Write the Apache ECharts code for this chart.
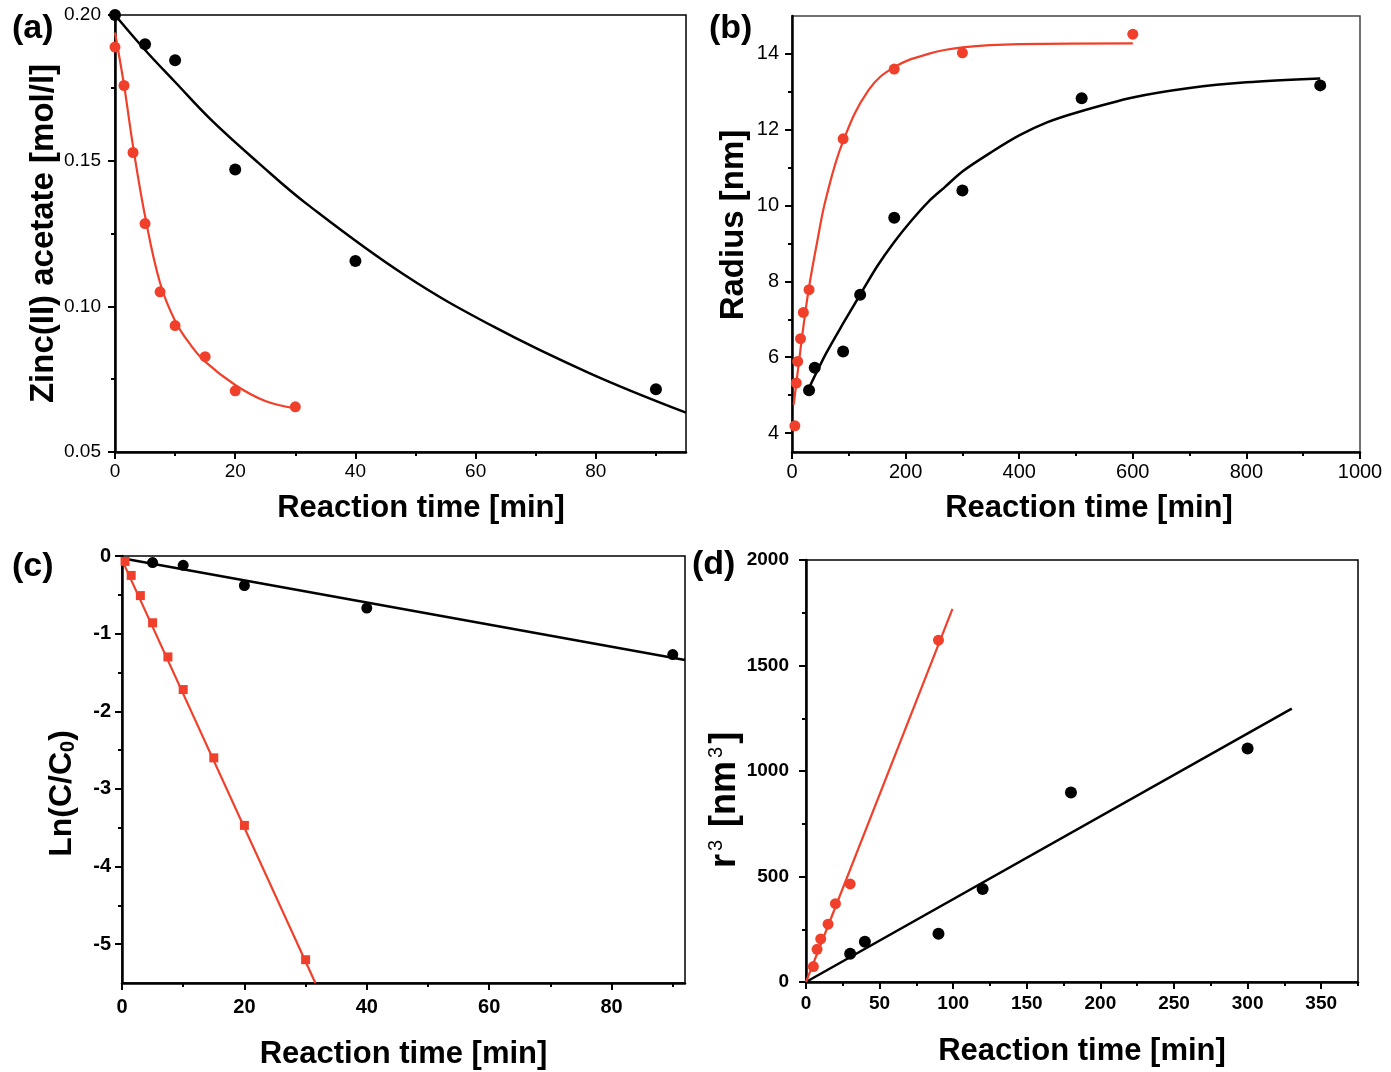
<!DOCTYPE html>
<html>
<head>
<meta charset="utf-8">
<script src="https://cdn.jsdelivr.net/npm/echarts@6/dist/echarts.min.js"></script>
<style>
html,body{margin:0;padding:0;background:#fff;}
#chart{width:1391px;height:1072px;}
</style>
</head>
<body>
<div id="chart"></div>
<script>
// ---------- Panel (a): Zinc(II) acetate vs time ----------
const timeA_black = [0, 5, 10, 20, 40, 90];
const concA_black = [0.200, 0.190, 0.1845, 0.147, 0.1156, 0.0715];
const timeA_red = [0, 1.5, 3, 5, 7.5, 10, 15, 20, 30];
const concA_red = [0.189, 0.1758, 0.1528, 0.1284, 0.105, 0.0934, 0.0827, 0.071, 0.0655];
const fitA_black_t = [0, 5, 10, 16, 24, 32, 48, 63, 79, 95];
const fitA_black_v = [0.200, 0.188, 0.177, 0.164, 0.149, 0.135, 0.111, 0.093, 0.077, 0.0635];
const fitA_red_t = [0, 1.5, 3, 5, 7.5, 10, 12.5, 15, 20, 25, 30];
const fitA_red_v = [0.194, 0.176, 0.155, 0.131, 0.108, 0.095, 0.087, 0.081, 0.073, 0.0675, 0.065];

// ---------- Panel (b): Radius vs time ----------
const timeB_black = [30, 40, 90, 120, 180, 300, 510, 930];
const radB_black = [5.13, 5.72, 6.15, 7.65, 9.68, 10.4, 12.83, 13.17];
const timeB_red = [5, 7.5, 10, 15, 20, 30, 90, 180, 300, 600];
const radB_red = [4.19, 5.32, 5.89, 6.49, 7.18, 7.78, 11.76, 13.6, 14.03, 14.52];
const fitB_black_t = [30, 60, 90, 120, 150, 180, 210, 240, 270, 300, 350, 400, 450, 500, 600, 700, 800, 930];
const fitB_black_v = [5.19, 6.1, 6.89, 7.65, 8.4, 9.04, 9.6, 10.1, 10.5, 10.9, 11.4, 11.85, 12.2, 12.45, 12.85, 13.1, 13.25, 13.35];
const fitB_red_t = [3, 10, 20, 30, 45, 60, 90, 135, 180, 240, 300, 400, 600];
const fitB_red_v = [4.75, 5.6, 6.8, 7.85, 9.1, 10.2, 11.7, 13.05, 13.65, 14.0, 14.17, 14.26, 14.28];

// ---------- Panel (c): Ln(C/C0) vs time ----------
const timeC_black = [5, 10, 20, 40, 90];
const lnC_black = [-0.085, -0.12, -0.38, -0.67, -1.27];
const timeC_red = [0.5, 1.5, 3, 5, 7.5, 10, 15, 20, 30];
const lnC_red = [-0.07, -0.25, -0.51, -0.86, -1.30, -1.72, -2.60, -3.47, -5.20];
const fitC_black_t = [0, 92];
const fitC_black_v = [-0.03, -1.34];
const fitC_red_t = [0, 31.6];
const fitC_red_v = [-0.05, -5.5];

// ---------- Panel (d): r^3 vs time ----------
const timeD_black = [30, 40, 90, 120, 180, 300];
const r3D_black = [134, 191, 229, 441, 898, 1107];
const timeD_red = [5, 7.5, 10, 15, 20, 30, 90];
const r3D_red = [73, 155, 204, 274, 371, 465, 1620];
const fitD_black_t = [0, 330];
const fitD_black_v = [0, 1296];
const fitD_red_t = [0, 99.5];
const fitD_red_v = [0, 1768];

// ---------- Tick values ----------
const ticksA_x = [0, 20, 40, 60, 80];
const minorA_x = [10, 30, 50, 70, 90];
const ticksA_y = [0.05, 0.10, 0.15, 0.20];
const minorA_y = [0.075, 0.125, 0.175];
const ticksB_x = [0, 200, 400, 600, 800, 1000];
const minorB_x = [100, 300, 500, 700, 900];
const ticksB_y = [4, 6, 8, 10, 12, 14];
const minorB_y = [5, 7, 9, 11, 13];
const ticksC_x = [0, 20, 40, 60, 80];
const minorC_x = [10, 30, 50, 70, 90];
const ticksC_y = [-5, -4, -3, -2, -1, 0];
const minorC_y = [-4.5, -3.5, -2.5, -1.5, -0.5];
const ticksD_x = [0, 50, 100, 150, 200, 250, 300, 350];
const minorD_x = [25, 75, 125, 175, 225, 275, 325, 375];
const ticksD_y = [0, 500, 1000, 1500, 2000];
const minorD_y = [250, 750, 1250, 1750];

const RED = '#f0402b';
const BLACK = '#000';
const FONT = '"Liberation Sans", Arial, Helvetica, sans-serif';

function zip(xs, ys) { return xs.map((x, i) => [x, ys[i]]); }

function mainAxis(dim, g, min, max, majors, fmt, lab, nameCfg) {
  return {
    type: 'value', gridIndex: g, min: min, max: max,
    position: dim === 'x' ? 'bottom' : 'left',
    axisLine: { show: true, onZero: false, lineStyle: { color: BLACK, width: 2.5 } },
    axisTick: { show: true, inside: false, length: 7, customValues: majors, lineStyle: { color: BLACK, width: 2 } },
    axisLabel: {
      customValues: majors, formatter: fmt, color: BLACK, fontFamily: FONT,
      fontSize: lab.size, fontWeight: lab.weight, margin: lab.margin
    },
    splitLine: { show: false },
    name: nameCfg.text, nameLocation: 'middle', nameGap: nameCfg.gap,
    nameTextStyle: Object.assign({
      color: BLACK, fontFamily: FONT, fontSize: nameCfg.size, fontWeight: 'bold',
      padding: nameCfg.padding || 0
    }, nameCfg.rich ? { rich: nameCfg.rich } : {})
  };
}
function minorAxis(dim, g, min, max, minors) {
  return {
    type: 'value', gridIndex: g, min: min, max: max,
    position: dim === 'x' ? 'bottom' : 'left',
    axisLine: { show: false, onZero: false },
    axisTick: { show: true, inside: false, length: 4, customValues: minors, lineStyle: { color: BLACK, width: 2 } },
    axisLabel: { show: false },
    splitLine: { show: false }
  };
}

const fmt2 = v => v.toFixed(2);
const fmt0 = v => String(v);

const labA = { size: 19, weight: 'normal', margin: 14 };
const labAx = { size: 19, weight: 'normal', margin: 10 };
const labB = { size: 20, weight: 'normal', margin: 13 };
const labBx = { size: 20, weight: 'normal', margin: 10 };
const labC = { size: 20, weight: 'bold', margin: 11 };
const labCx = { size: 20, weight: 'bold', margin: 14 };
const labD = { size: 19, weight: 'bold', margin: 17 };
const labDx = { size: 19, weight: 'bold', margin: 12 };

const xName = 'Reaction time [min]';

const grids = [
  { left: 115, top: 15, width: 571, height: 437, show: true, borderColor: BLACK, borderWidth: 1.5 },
  { left: 792, top: 16, width: 568, height: 436, show: true, borderColor: '#444', borderWidth: 1.5 },
  { left: 122, top: 556, width: 563, height: 427, show: true, borderColor: BLACK, borderWidth: 1.5 },
  { left: 806, top: 560, width: 552, height: 422, show: true, borderColor: BLACK, borderWidth: 1.5 }
];

const xAxes = [
  mainAxis('x', 0, 0, 95, ticksA_x, fmt0, labAx, { text: xName, gap: 41, size: 31, padding: [0, 0, 0, 41] }),
  minorAxis('x', 0, 0, 95, minorA_x),
  mainAxis('x', 1, 0, 1000, ticksB_x, fmt0, labBx, { text: xName, gap: 41, size: 31, padding: [0, 0, 0, 26] }),
  minorAxis('x', 1, 0, 1000, minorB_x),
  mainAxis('x', 2, 0, 92, ticksC_x, fmt0, labCx, { text: xName, gap: 56, size: 31 }),
  minorAxis('x', 2, 0, 92, minorC_x),
  mainAxis('x', 3, 0, 375, ticksD_x, fmt0, labDx, { text: xName, gap: 54, size: 31 }),
  minorAxis('x', 3, 0, 375, minorD_x)
];
const yAxes = [
  mainAxis('y', 0, 0.05, 0.20, ticksA_y, fmt2, labA, { text: 'Zinc(II) acetate [mol/l]', gap: 53, size: 33 }),
  minorAxis('y', 0, 0.05, 0.20, minorA_y),
  mainAxis('y', 1, 3.5, 15, ticksB_y, fmt0, labB, { text: 'Radius [nm]', gap: 42, size: 33, padding: [0, 0, 0, 18] }),
  minorAxis('y', 1, 3.5, 15, minorB_y),
  mainAxis('y', 2, -5.5, 0, ticksC_y, fmt0, labC, {
    text: 'Ln(C/C{sub|0})', gap: 44, size: 32, padding: [0, 48, 0, 0],
    rich: { sub: { fontSize: 20, fontWeight: 'bold', fontFamily: FONT, color: BLACK, verticalAlign: 'bottom' } }
  }),
  minorAxis('y', 2, -5.5, 0, minorC_y),
  mainAxis('y', 3, 0, 2000, ticksD_y, fmt0, labD, {
    text: 'r{sup|3} [nm{sup|3}]', gap: 56, size: 36, padding: [0, 58, 0, 0],
    rich: { sup: { fontSize: 20, fontWeight: 'normal', fontFamily: FONT, color: BLACK, verticalAlign: 'top', padding: [0, 3, 0, 3] } }
  }),
  minorAxis('y', 3, 0, 2000, minorD_y)
];

function fitLine(axis, xs, ys, color, width, smooth) {
  return {
    type: 'line', xAxisIndex: axis, yAxisIndex: axis, data: zip(xs, ys),
    showSymbol: false, symbol: 'none', smooth: smooth,
    lineStyle: { color: color, width: width }, itemStyle: { color: color }, z: 2, silent: true
  };
}
function pts(axis, xs, ys, color, symbol, size) {
  return {
    type: 'scatter', xAxisIndex: axis, yAxisIndex: axis, data: zip(xs, ys),
    symbol: symbol, symbolSize: size, itemStyle: { color: color, opacity: 1 }, z: 3
  };
}

const series = [
  fitLine(0, fitA_black_t, fitA_black_v, BLACK, 2.5, 0.4),
  fitLine(0, fitA_red_t, fitA_red_v, RED, 2.2, 0.4),
  pts(0, timeA_black, concA_black, BLACK, 'circle', 12),
  pts(0, timeA_red, concA_red, RED, 'circle', 11),

  fitLine(2, fitB_black_t, fitB_black_v, BLACK, 2.5, 0.3),
  fitLine(2, fitB_red_t, fitB_red_v, RED, 2.2, 0.4),
  pts(2, timeB_black, radB_black, BLACK, 'circle', 12),
  pts(2, timeB_red, radB_red, RED, 'circle', 11),

  fitLine(4, fitC_black_t, fitC_black_v, BLACK, 2.5, false),
  fitLine(4, fitC_red_t, fitC_red_v, RED, 2.2, false),
  pts(4, timeC_black, lnC_black, BLACK, 'circle', 11),
  pts(4, timeC_red, lnC_red, RED, 'rect', 9),

  fitLine(6, fitD_black_t, fitD_black_v, BLACK, 2.5, false),
  fitLine(6, fitD_red_t, fitD_red_v, RED, 2.2, false),
  pts(6, timeD_black, r3D_black, BLACK, 'circle', 12),
  pts(6, timeD_red, r3D_red, RED, 'circle', 11)
];

const panelLabels = [
  { t: '(a)', x: 12, y: 31 },
  { t: '(b)', x: 709, y: 31 },
  { t: '(c)', x: 12, y: 569 },
  { t: '(d)', x: 692, y: 567 }
];

const chart = echarts.init(document.getElementById('chart'), null, { renderer: 'canvas' });
chart.setOption({
  animation: false,
  backgroundColor: '#fff',
  grid: grids,
  xAxis: xAxes,
  yAxis: yAxes,
  series: series,
  graphic: panelLabels.map(p => ({
    type: 'text', left: p.x, top: p.y - 19, z: 10,
    style: { text: p.t, fontSize: 34, fontWeight: 'bold', fontFamily: FONT, fill: BLACK }
  }))
});
</script>
</body>
</html>
